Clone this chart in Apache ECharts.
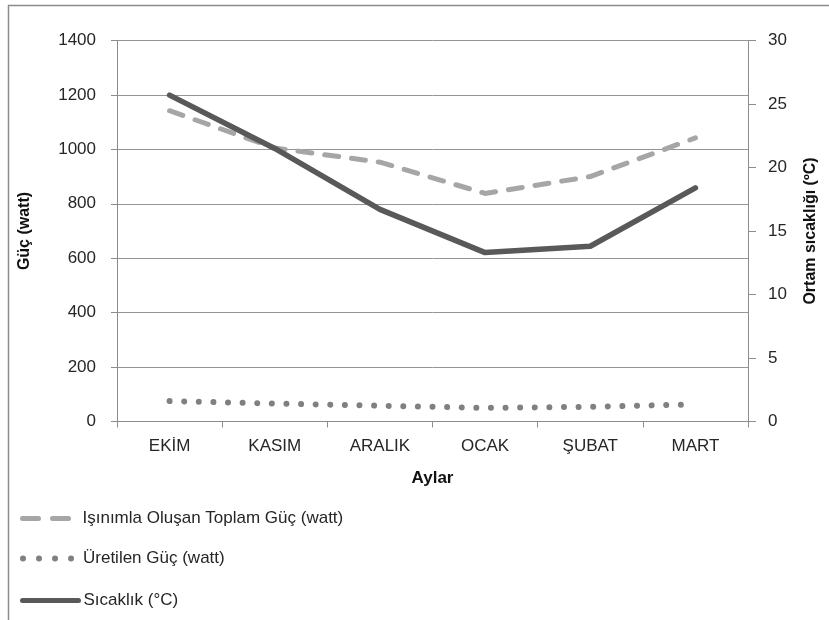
<!DOCTYPE html>
<html>
<head>
<meta charset="utf-8">
<script src="https://cdn.jsdelivr.net/npm/echarts@6/dist/echarts.min.js"></script>
<style>
html,body{margin:0;padding:0;background:#fff;}
#c{width:829px;height:620px;}
</style>
</head>
<body>
<div id="c"></div>
<script>
var months = ['EKİM', 'KASIM', 'ARALIK', 'OCAK', 'ŞUBAT', 'MART'];
var radiationPower = [1142, 1005, 953, 838, 900, 1042];
var producedPower = [75, 66, 58, 50, 54, 63];
var temperature = [25.7, 21.5, 16.7, 13.3, 13.8, 18.4];
var leftTicks = [0, 1400, 200];
var rightTicks = [0, 30, 5];

var FONT = 'Liberation Sans';
var TXT = '#262626';
var chart = echarts.init(document.getElementById('c'));
function legendCfg(name, top, left, width, lineStyle, textPad) {
  return {
    orient: 'vertical', left: left, top: top, data: [name], padding: 0,
    itemWidth: width, itemHeight: 14,
    itemStyle: { opacity: 0 },
    lineStyle: lineStyle,
    textStyle: { fontFamily: FONT, fontSize: 17, color: TXT, padding: [0, 0, 0, textPad] },
    selectedMode: false
  };
}
chart.setOption({
  animation: false,
  backgroundColor: '#fff',
  graphic: [{
    type: 'rect', left: 6, top: 3, shape: { width: 900, height: 700 },
    style: { fill: 'none', stroke: '#8c8c8c', lineWidth: 1.5 }, silent: true
  }],
  grid: { left: 117, right: 81, top: 40.5, bottom: 198.5, containLabel: false },
  legend: [
    legendCfg('Işınımla Oluşan Toplam Güç (watt)', 510, 20, 50,
      { color: '#a6a6a6', width: 5, type: [16, 14], cap: 'round', opacity: 1 }, 5),
    legendCfg('Üretilen Güç (watt)', 550, 20, 49,
      { color: '#808080', width: 6, type: [0.01, 16], cap: 'round', opacity: 1 }, 6),
    legendCfg('Sıcaklık (°C)', 592, 20, 56,
      { color: '#595959', width: 5, type: 'solid', cap: 'round', opacity: 1 }, 0)
  ],
  xAxis: {
    type: 'category', data: months, boundaryGap: true,
    name: 'Aylar', nameLocation: 'middle', nameGap: 48,
    nameTextStyle: { fontFamily: FONT, fontSize: 17, fontWeight: 'bold', color: '#111' },
    axisLine: { lineStyle: { color: '#8c8c8c', width: 1 } },
    axisTick: { show: true, length: 6, alignWithLabel: false, lineStyle: { color: '#8c8c8c' } },
    axisLabel: { fontFamily: FONT, fontSize: 17, color: TXT, margin: 16 }
  },
  yAxis: [{
    type: 'value', min: leftTicks[0], max: leftTicks[1], interval: leftTicks[2], position: 'left',
    name: 'Güç (watt)', nameLocation: 'middle', nameGap: 84, nameRotate: 90,
    nameTextStyle: { fontFamily: FONT, fontSize: 16, fontWeight: 'bold', color: '#111' },
    axisLine: { show: true, lineStyle: { color: '#8c8c8c' } },
    axisTick: { show: true, length: 6, lineStyle: { color: '#8c8c8c' } },
    axisLabel: { fontFamily: FONT, fontSize: 17, color: TXT, margin: 21, formatter: function (v) { return String(v); } },
    splitLine: { show: true, lineStyle: { color: '#959595', width: 1 } }
  }, {
    type: 'value', min: rightTicks[0], max: rightTicks[1], interval: rightTicks[2], position: 'right',
    name: 'Ortam sıcaklığı (ºC)', nameLocation: 'middle', nameGap: 55, nameRotate: 90,
    nameTextStyle: { fontFamily: FONT, fontSize: 16, fontWeight: 'bold', color: '#111' },
    axisLine: { show: true, lineStyle: { color: '#8c8c8c' } },
    axisTick: { show: true, length: 8, lineStyle: { color: '#8c8c8c' } },
    axisLabel: { fontFamily: FONT, fontSize: 17, color: TXT, margin: 20 },
    splitLine: { show: false }
  }],
  series: [{
    name: 'Işınımla Oluşan Toplam Güç (watt)', type: 'line', yAxisIndex: 0,
    data: radiationPower, symbol: 'none', smooth: false,
    lineStyle: { color: '#a6a6a6', width: 5, type: [14, 13], cap: 'round', join: 'round' },
    itemStyle: { color: '#a6a6a6' }, z: 3
  }, {
    name: 'Üretilen Güç (watt)', type: 'line', yAxisIndex: 0,
    data: producedPower, symbol: 'none',
    lineStyle: { color: '#808080', width: 6, type: [0.01, 14.6], cap: 'round' },
    itemStyle: { color: '#808080' }, z: 3
  }, {
    name: 'Sıcaklık (°C)', type: 'line', yAxisIndex: 1,
    data: temperature, symbol: 'none',
    lineStyle: { color: '#595959', width: 5.5, type: 'solid', cap: 'round', join: 'round' },
    itemStyle: { color: '#595959' }, z: 4
  }]
});
</script>
</body>
</html>
